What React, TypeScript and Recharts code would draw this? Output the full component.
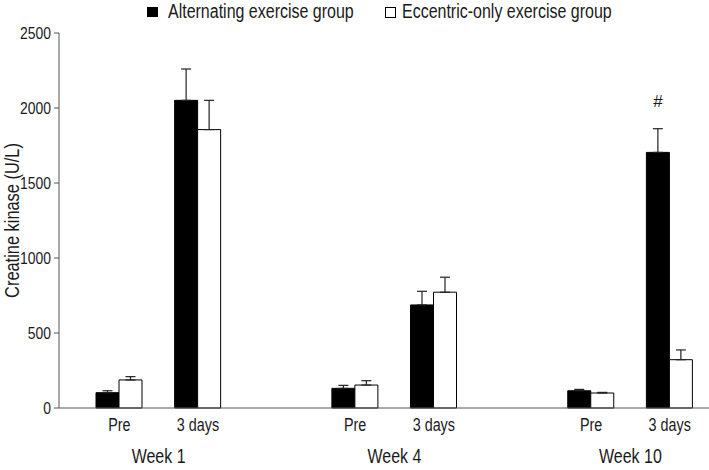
import React from 'react';
import {
    BarChart,
    Bar,
    XAxis,
    YAxis,
    ErrorBar,
    Legend,
    LabelList,
    Label
} from 'recharts';

const weeks = ['Week 1', 'Week 4', 'Week 10'];
const times = ['Pre', '3 days'];
const alternating = [102, 2051, 131, 687, 115, 1704];
const alternatingErr = [13, 209, 20, 91, 9, 158];
const eccentric = [187, 1856, 153, 772, 100, 322];
const eccentricErr = [22, 195, 29, 100, 4, 65];
const marks = ['', '', '', '', '', '#'];
const yTicks = [0, 500, 1000, 1500, 2000, 2500];
const seriesNames = ['Alternating exercise group', 'Eccentric-only exercise group'];

const FONT = 'Arial, "Liberation Sans", sans-serif';
const INK = '#1a1a1a';
const NARROW = 0.82; // the source figure uses a condensed sans

// one row per bar pair, with an empty spacer slot between weeks
const data: any[] = [];
weeks.forEach((week, w) => {
    times.forEach((time, t) => {
        const i = w * times.length + t;
        data.push({
            key: `${week}-${time}`,
            time,
            week: t === 0 ? week : '',
            alt: alternating[i],
            altErr: [0, alternatingErr[i]],
            ecc: eccentric[i],
            eccErr: [0, eccentricErr[i]],
            mark: marks[i],
        });
    });
    if (w < weeks.length - 1) {
        data.push({ key: `gap-${w}`, time: '', week: '' });
    }
});

const NarrowText = ({ x, y, size, anchor = 'middle', rotate = 0, children }: any) => (
    <text
        transform={`translate(${x} ${y}) rotate(${rotate}) scale(${NARROW} 1)`}
        textAnchor={anchor}
        fontSize={size}
        fontFamily={FONT}
        fill={INK}
    >
        {children}
    </text>
);

const TimeTick = (props: any) => {
    const { x, y, payload, index } = props;
    const row = data[index] || {};
    const half = payload && payload.offset ? payload.offset : 39;
    return (
        <g>
            <NarrowText x={x} y={y + 15} size={17.5}>{row.time}</NarrowText>
            {row.week ? (
                <NarrowText x={x + half} y={y + 47} size={19.5}>{row.week}</NarrowText>
            ) : null}
        </g>
    );
};

const ValueTick = (props: any) => {
    const { x, y, payload } = props;
    return (
        <NarrowText x={x - 1} y={y + 6} size={17} anchor="end">
            {payload.value}
        </NarrowText>
    );
};

const YTitle = (props: any) => {
    const vb = props.viewBox || { x: 0, y: 0, height: 0 };
    return (
        <NarrowText x={vb.x + 19} y={vb.y + vb.height / 2} size={20} rotate={-90}>
            Creatine kinase (U/L)
        </NarrowText>
    );
};

const LegendBox = () => (
    <svg width={709} height={24} style={{ display: 'block' }}>
        <rect x={147} y={7} width={11} height={10} fill="#000" />
        <NarrowText x={168} y={18} size={19.5} anchor="start">{seriesNames[0]}</NarrowText>
        <rect x={385.5} y={7.5} width={10} height={10} fill="#fff" stroke="#000" strokeWidth={1} />
        <NarrowText x={402} y={18} size={19.5} anchor="start">{seriesNames[1]}</NarrowText>
    </svg>
);

export default function App() {
    return (
        <div style={{ position: 'absolute', left: 0, top: 0, width: 709, height: 470, background: '#fff' }}>
            <BarChart
                width={709}
                height={470}
                data={data}
                margin={{ top: 9, right: 0, left: 0, bottom: 0 }}
                barGap={0}
                barSize={23}
            >
                <Legend
                    verticalAlign="top"
                    align="left"
                    height={24}
                    content={<LegendBox />}
                    wrapperStyle={{ top: 0, left: 0, width: 709 }}
                />
                <XAxis
                    dataKey="key"
                    interval={0}
                    tickLine={false}
                    height={62}
                    padding={{ left: 21, right: 0 }}
                    axisLine={{ stroke: '#555' }}
                    tick={<TimeTick />}
                />
                <YAxis
                    width={59}
                    domain={[0, 2500]}
                    ticks={yTicks}
                    tickSize={5}
                    axisLine={{ stroke: '#555' }}
                    tickLine={{ stroke: '#555' }}
                    tick={<ValueTick />}
                >
                    <Label position="insideLeft" content={<YTitle />} />
                </YAxis>
                <Bar dataKey="alt" name={seriesNames[0]} fill="#000" stroke="#000" isAnimationActive={false}>
                    <ErrorBar dataKey="altErr" width={5} stroke="#222" strokeWidth={1.2} />
                    <LabelList dataKey="mark" position="top" offset={45} fill={INK} fontSize={17} fontFamily={FONT} />
                </Bar>
                <Bar dataKey="ecc" name={seriesNames[1]} fill="#fff" stroke="#000" strokeWidth={1} isAnimationActive={false}>
                    <ErrorBar dataKey="eccErr" width={5} stroke="#222" strokeWidth={1.2} />
                </Bar>
            </BarChart>
        </div>
    );
}
